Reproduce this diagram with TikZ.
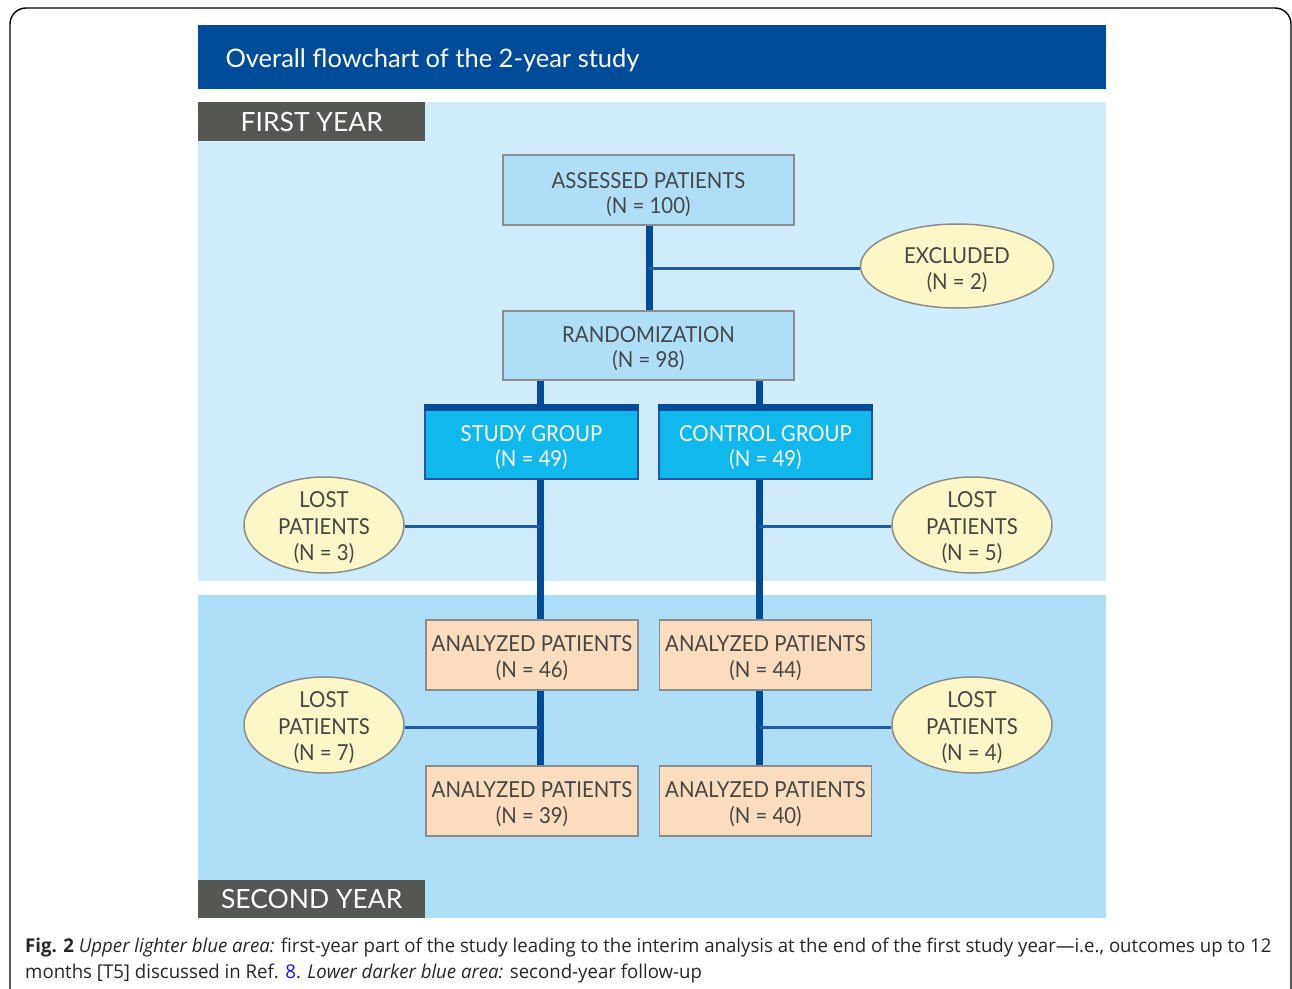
\documentclass[tikz,border=0pt]{standalone}
\usepackage{fontspec}
\usetikzlibrary{shapes.geometric}
\newfontfamily\dfont[FakeStretch=0.925]{Lato}
\newfontfamily\hfont{Lato}
\newfontfamily\cfont[FakeStretch=0.98]{Open Sans}
\newcommand{\lowr}[1]{\rule{0pt}{#1pt}}
\definecolor{hdrblue}{RGB}{0,76,153}
\definecolor{yearone}{RGB}{208,236,251}
\definecolor{yeartwo}{RGB}{174,223,247}
\definecolor{labgray}{RGB}{85,87,83}
\definecolor{boxlight}{RGB}{174,223,247}
\definecolor{boxedge}{RGB}{140,140,140}
\definecolor{groupfill}{RGB}{16,184,236}
\definecolor{peach}{RGB}{250,220,190}
\definecolor{cream}{RGB}{252,247,198}
\definecolor{txtgray}{RGB}{70,70,70}
\definecolor{thinblue}{RGB}{30,90,168}
\definecolor{linkblue}{RGB}{20,20,230}
\tikzset{
  every node/.style={font=\dfont\fontsize{22}{25}\selectfont, text=txtgray, align=center},
  lightbox/.style={rectangle, draw=boxedge, line width=1.5pt, fill=boxlight, minimum width=291pt, minimum height=70pt, inner sep=0pt},
  groupbox/.style={rectangle, draw=thinblue, line width=1.2pt, fill=groupfill, minimum width=213pt, minimum height=74pt, inner sep=0pt, text=white},
  peachbox/.style={rectangle, draw=boxedge, line width=1.5pt, fill=peach, minimum width=212pt, minimum height=70pt, inner sep=0pt, font=\dfont\fontsize{22}{26}\selectfont},
  oval/.style={ellipse, draw=boxedge, line width=1.5pt, fill=cream, inner sep=0pt},
  ovaltext/.style={font=\dfont\fontsize{22}{26.5}\selectfont},
  thickline/.style={draw=hdrblue, line width=7pt},
  thinline/.style={draw=thinblue, line width=3pt},
  yearlabel/.style={rectangle, fill=labgray, minimum width=227pt, inner sep=0pt, text=white, font=\hfont\fontsize{26.5}{30}\selectfont}
}
\begin{document}
\begin{tikzpicture}[x=1pt,y=-1pt]
\useasboundingbox (0,0) rectangle (1292,988);
% outer frame
\draw[line width=1.4pt, rounded corners=16pt] (10,1010) -- (10,8) -- (1291,8) -- (1291,1010);
% header
\fill[hdrblue] (198,25) rectangle (1106,89);
\node[anchor=west, text=white, font=\hfont\fontsize{25.5}{28}\selectfont] (title) at (222,60) {Overall flowchart of the 2-year study};
% year areas
\fill[yearone] (198,102) rectangle (1106,581);
\fill[yeartwo] (198,595) rectangle (1106,918);
\node[yearlabel, anchor=north west, minimum height=39pt] (y1) at (198,102) {FIRST YEAR};
\node[yearlabel, anchor=south west, minimum height=38pt] (y2) at (198,918) {SECOND YEAR};
% coordinates of trunks
\coordinate (xs) at (540,0);
\coordinate (xc) at (759,0);
\coordinate (xm) at (649,0);
% boxes
\node[lightbox] (assessed) at (648.5,190) {\lowr{26}ASSESSED PATIENTS\\(N = 100)};
\node[lightbox, minimum height=69pt] (rand) at (648.5,345.5) {\lowr{22}RANDOMIZATION\\(N = 98)};
\node[groupbox] (study) at (531.5,442) {\lowr{28}STUDY GROUP\\(N = 49)};
\node[groupbox] (control) at (765.5,442) {\lowr{28}CONTROL GROUP\\(N = 49)};
\node[peachbox] (a46) at (532,655) {\lowr{22}ANALYZED PATIENTS\\(N = 46)};
\node[peachbox] (a44) at (765.5,655) {\lowr{22}ANALYZED PATIENTS\\(N = 44)};
\node[peachbox] (a39) at (532,801) {\lowr{22}ANALYZED PATIENTS\\(N = 39)};
\node[peachbox] (a40) at (765.5,801) {\lowr{22}ANALYZED PATIENTS\\(N = 40)};
% group top bars
\fill[hdrblue] ([xshift=-0.6pt]study.north west) rectangle ([xshift=0.6pt,yshift=-7pt]study.north east);
\fill[hdrblue] ([xshift=-0.6pt]control.north west) rectangle ([xshift=0.6pt,yshift=-7pt]control.north east);
% ovals
\node[oval, minimum width=193pt, minimum height=84pt] (excl) at (957,266) {};
\node[ovaltext] (exclt) at (957,270) {EXCLUDED\\(N = 2)};
\node[oval, minimum width=160pt, minimum height=96pt] (lost3) at (324,525) {};
\node[ovaltext] (lost3t) at (324,528) {LOST\\PATIENTS\\(N = 3)};
\node[oval, minimum width=160pt, minimum height=96pt] (lost5) at (972,525) {};
\node[ovaltext] (lost5t) at (972,528) {LOST\\PATIENTS\\(N = 5)};
\node[oval, minimum width=160pt, minimum height=96pt] (lost7) at (324,725) {};
\node[ovaltext] (lost7t) at (324,728) {LOST\\PATIENTS\\(N = 7)};
\node[oval, minimum width=160pt, minimum height=96pt] (lost4) at (972,725) {};
\node[ovaltext] (lost4t) at (972,728) {LOST\\PATIENTS\\(N = 4)};
% connectors
\draw[thickline] (assessed.south -| xm) -- (rand.north -| xm);
\draw[thinline] (xm |- excl.west) ++(0,2) coordinate (exj) -- (excl.west |- exj);
\draw[thickline] (rand.south -| xs) -- (study.north -| xs);
\draw[thickline] (rand.south -| xc) -- (control.north -| xc);
\draw[thickline] (study.south -| xs) -- (a46.north -| xs);
\draw[thickline] (control.south -| xc) -- (a44.north -| xc);
\draw[thickline] (a46.south -| xs) -- (a39.north -| xs);
\draw[thickline] (a44.south -| xc) -- (a40.north -| xc);
\draw[thinline] (lost3.east) ++(0,1) coordinate (l3j) -- (xs |- l3j);
\draw[thinline] (lost5.west) ++(0,1) coordinate (l5j) -- (xc |- l5j);
\draw[thinline] (lost7.east) ++(0,2) coordinate (l7j) -- (xs |- l7j);
\draw[thinline] (lost4.west) ++(0,2) coordinate (l4j) -- (xc |- l4j);
% caption
\node[anchor=base west, inner sep=0pt, text=black!85, font=\cfont\fontsize{19}{23}\selectfont] (cap1) at (25,952)
  {\textbf{Fig. 2} \textit{Upper lighter blue area:} first-year part of the study leading to the interim analysis at the end of the first study year—i.e., outcomes up to 12};
\node[anchor=base west, inner sep=0pt, text=black!85, font=\cfont\fontsize{19}{23}\selectfont] (cap2) at (25,978)
  {months [T5] discussed in Ref. \textcolor{linkblue}{8}. \textit{Lower darker blue area:} second-year follow-up};
\end{tikzpicture}
\end{document}
